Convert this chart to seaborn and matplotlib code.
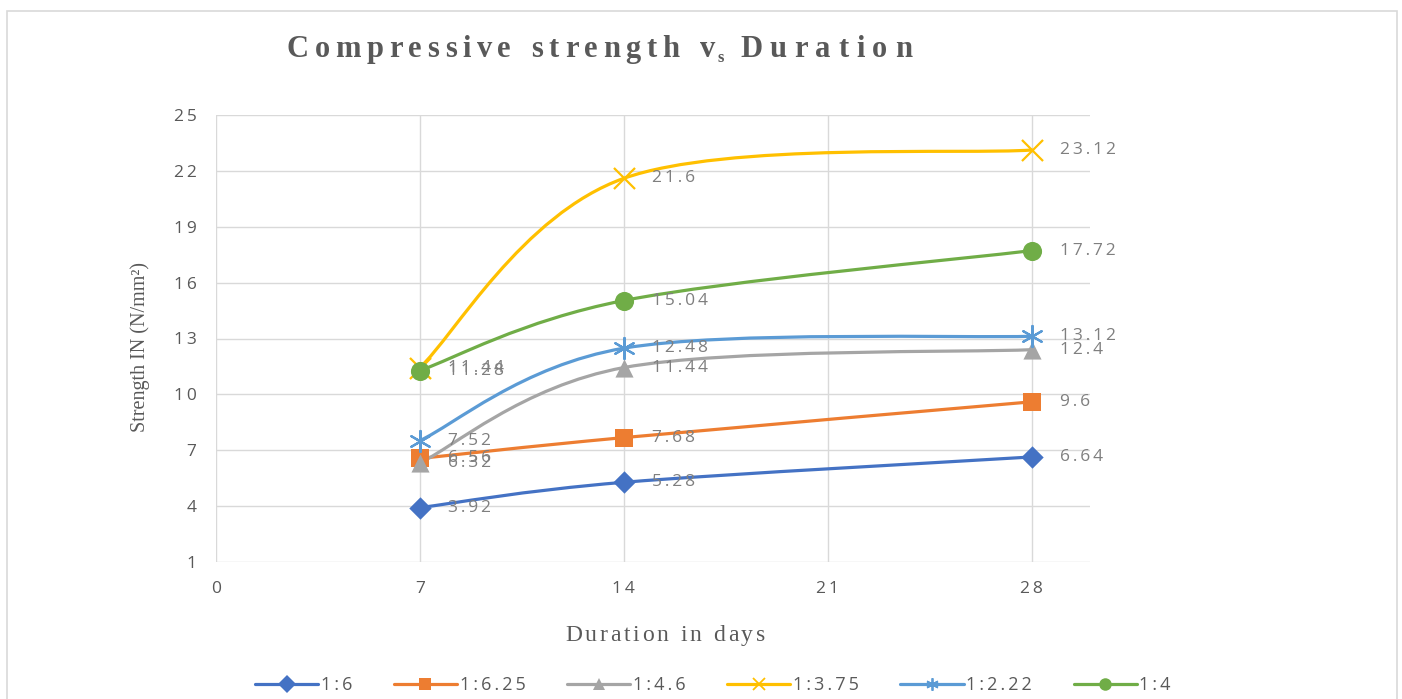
import numpy as np
import pandas as pd
import matplotlib
matplotlib.use("Agg")
import matplotlib.pyplot as plt
import seaborn as sns
from matplotlib.path import Path
from matplotlib.patches import PathPatch, Rectangle
from matplotlib.lines import Line2D

# ---------------- data ----------------
days = [7, 14, 28]
series_names = ["1:6", "1:6.25", "1:4.6", "1:3.75", "1:2.22", "1:4"]
s_1_6 = [3.92, 5.28, 6.64]
s_1_6_25 = [6.56, 7.68, 9.6]
s_1_4_6 = [6.32, 11.44, 12.4]
s_1_3_75 = [11.44, 21.6, 23.12]
s_1_2_22 = [7.52, 12.48, 13.12]
s_1_4 = [11.28, 15.04, 17.72]
series_values = [s_1_6, s_1_6_25, s_1_4_6, s_1_3_75, s_1_2_22, s_1_4]
x_ticks = [0, 7, 14, 21, 28]
y_ticks = [1, 4, 7, 10, 13, 16, 19, 22, 25]

title_main = "Compressive strength v"
title_sub = "s"
title_tail = "Duration"
x_label = "Duration in days"
y_label = "Strength IN (N/mm²)"

colors = ["#4472C4", "#ED7D31", "#A5A5A5", "#FFC000", "#5B9BD5", "#70AD47"]
markers = ["D", "s", "^", "x", (6, 2, 0), "o"]
msizes = [130, 150, 170, 230, 230, 190]

sns.set_theme(style="white")
plt.rcParams["font.family"] = ["Open Sans", "DejaVu Sans"]

W, H = 1402, 699
fig = plt.figure(figsize=(W / 100, H / 100), dpi=100)
fig.patch.set_facecolor("white")
ax = fig.add_axes([216 / W, 1 - 562 / H, 874 / W, 447 / H])

SP = "\u2009"
def spaced_str(s):
    return SP.join(list(s))

def bezier_path(xs, ys):
    P = np.column_stack([xs, ys]).astype(float)
    n = len(P)
    verts = [P[0]]
    codes = [Path.MOVETO]
    for i in range(n - 1):
        p0 = P[i - 1] if i > 0 else P[i]
        p3 = P[i + 2] if i + 2 < n else P[i + 1]
        c1 = P[i] + (P[i + 1] - p0) / 6.0
        c2 = P[i + 1] - (p3 - P[i]) / 6.0
        verts += [c1, c2, P[i + 1]]
        codes += [Path.CURVE4] * 3
    return Path(verts, codes)

for name, vals, c, m, sz in zip(series_names, series_values, colors, markers, msizes):
    ax.add_patch(PathPatch(bezier_path(days, vals), fill=False, edgecolor=c,
                           lw=2.3, zorder=2, capstyle="round"))
    df = pd.DataFrame({"day": days, "val": vals})
    unfilled = m in ("x",) or isinstance(m, tuple)
    if unfilled:
        sns.scatterplot(data=df, x="day", y="val", marker=m, s=sz, color=c,
                        linewidth=1.6, ax=ax, zorder=3, legend=False)
    else:
        sns.scatterplot(data=df, x="day", y="val", marker=m, s=sz, color=c,
                        edgecolor=c, linewidth=0, ax=ax, zorder=3, legend=False)
    for d, v in zip(days, vals):
        ax.annotate(spaced_str(f"{v:g}"), (d, v), xytext=(20, 0),
                    textcoords="offset points", ha="left", va="center",
                    fontsize=12.5, color="#7F7F7F", zorder=4)

ax.set_xlim(0, 30)
ax.set_ylim(1, 25)
ax.set_xticks(x_ticks)
ax.set_xticklabels([spaced_str(str(t)) for t in x_ticks])
ax.set_yticks(y_ticks)
ax.set_yticklabels([spaced_str(str(t)) for t in y_ticks])
ax.tick_params(axis="both", length=0, labelsize=12.5, labelcolor="#595959", pad=14)
ax.grid(True, color="#D9D9D9", lw=1)
for sp in ax.spines.values():
    sp.set_visible(False)
ax.set_xlabel("")
ax.set_ylabel("")

# ---------------- spaced serif texts ----------------
fig.canvas.draw()
r = fig.canvas.get_renderer()

def ink_w(s, **kw):
    t = fig.text(0, 0, s, **kw)
    w = t.get_window_extent(r).width
    t.remove()
    return w

def spaced_text(x0, ybase, s, target_w, space_w, **kw):
    chars = list(s)
    widths = [0 if ch == " " else ink_w(ch, **kw) for ch in chars]
    total = sum(widths) + space_w * chars.count(" ")
    gaps = len(chars) - 1
    sp = (target_w - total) / gaps if gaps > 0 else 0
    x = x0
    for ch, w in zip(chars, widths):
        if ch == " ":
            x += space_w + sp
            continue
        fig.text(x / W, 1 - ybase / H, ch, ha="left", va="baseline", **kw)
        x += w + sp
    return x - sp, sp

serif = ["Liberation Serif", "DejaVu Serif"]
tkw = dict(fontsize=22, fontweight="bold", family=serif, color="#595959")
# title: main part, subscript, tail
x_end, sp1 = spaced_text(287, 57, title_main, 428, 9, **tkw)
sub_kw = dict(fontsize=12, fontweight="bold", family=serif, color="#595959")
fig.text((x_end + 3) / W, 1 - 62 / H, title_sub, ha="left", va="baseline", **sub_kw)
spaced_text(740, 57, title_tail, 172, 2, **tkw)

lkw = dict(fontsize=17, family=serif, color="#595959")
spaced_text(565, 641, x_label, 200, 6, **lkw)

fig.text(140 / W, 1 - 347 / H, y_label, rotation=90, ha="center", va="center",
         fontsize=14.5, family=serif, color="#595959")

# ---------------- legend ----------------
handles = []
for c, m in zip(colors, markers):
    unfilled = m in ("x",) or isinstance(m, tuple)
    handles.append(Line2D([0], [0], color=c, lw=2.3, marker=m, ms=9,
                          mew=1.3 if unfilled else 0, mec=c, mfc=c))
leg = fig.legend(handles, [spaced_str(n) for n in series_names], ncol=6, loc="center",
                 bbox_to_anchor=(713 / W, 1 - 685 / H), frameon=False,
                 handlelength=3.5, handletextpad=0.15, columnspacing=2.3,
                 fontsize=13, labelcolor="#595959")

# outer chart frame
fig.add_artist(Rectangle((7 / W, -0.05), (1397 - 7) / W, 1 - 11 / H + 0.05,
                         transform=fig.transFigure, fill=False, ec="#D9D9D9", lw=1.2))

fig.savefig("out.png", dpi=100)
